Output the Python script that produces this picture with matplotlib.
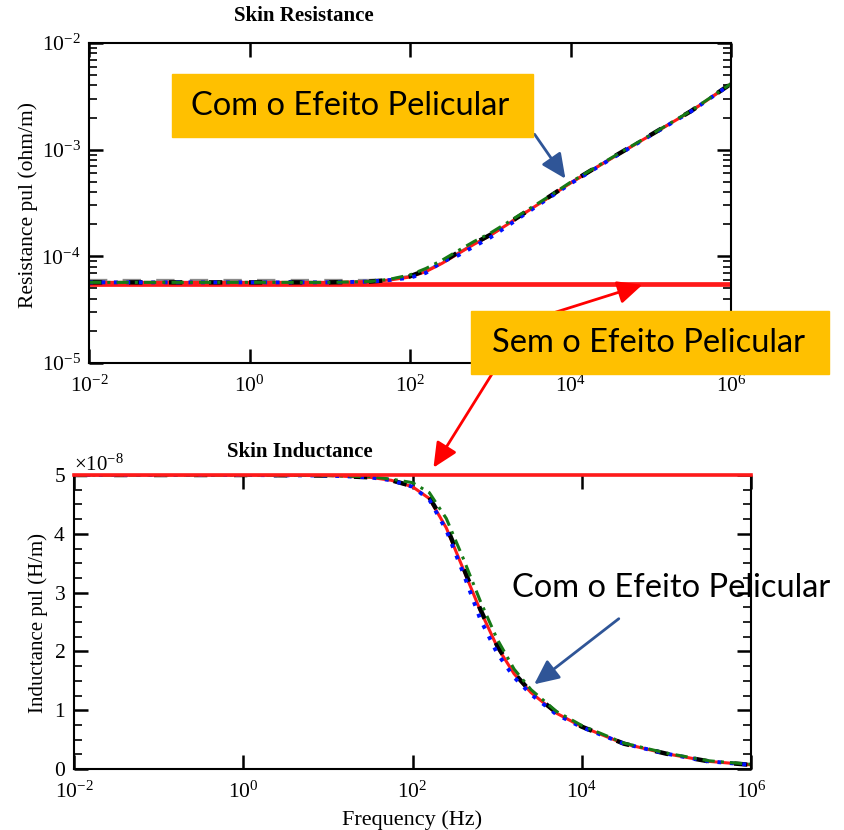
import matplotlib
matplotlib.use('Agg')
import matplotlib.pyplot as plt
import matplotlib.ticker as mticker
from matplotlib.patches import Rectangle
import numpy as np

plt.rcParams['font.family'] = ['Liberation Serif', 'DejaVu Serif']
plt.rcParams['mathtext.fontset'] = 'custom'
plt.rcParams['mathtext.rm'] = 'Liberation Serif'
plt.rcParams['mathtext.it'] = 'Liberation Serif:italic'
plt.rcParams['axes.linewidth'] = 1.5

# ---- data ----
# frequency grid (Hz)
freq = [0.01, 0.1, 1, 10, 31.6, 56.2, 100, 158, 251, 398, 631, 1000, 1585,
        2512, 5012, 10000, 31623, 100000, 316228, 1000000]

# skin resistance (ohm/m), units of 1e-5
r_fit = [5.7, 5.7, 5.7, 5.7, 5.8, 6.0, 6.4, 7.2, 8.6, 10.6, 13.0, 15.7, 19.6,
         24.6, 34.5, 48.7, 82.0, 137.0, 229.0, 414.0]
r_green = [5.7, 5.7, 5.7, 5.7, 5.8, 6.1, 6.7, 7.7, 9.2, 11.3, 13.8, 16.5, 20.4,
           25.4, 35.2, 49.5, 83.0, 138.0, 231.0, 416.0]
r_blue = [5.7, 5.7, 5.7, 5.7, 5.8, 6.0, 6.3, 7.0, 8.9, 10.2, 12.4, 15.0, 18.9,
          24.0, 34.0, 48.0, 81.5, 136.0, 228.0, 413.0]
r_black = [5.7, 5.7, 5.7, 5.7, 5.8, 6.0, 6.5, 7.4, 8.8, 10.9, 13.2, 15.9, 19.8,
           24.8, 34.8, 49.0, 82.5, 137.5, 229.5, 415.0]
r_gray = [5.95, 5.95, 5.95, 5.95, 5.95, 6.1, 6.5, 7.3, 8.7, 10.7, 13.1, 15.8, 19.7,
          24.7, 34.6, 48.8, 82.2, 137.2, 229.2, 414.5]
r_sem_freq = [0.01, 1000000]
r_sem = [5.55, 5.55]

# skin inductance (H/m), units of 1e-8
l_fit = [5.00, 5.00, 5.00, 4.99, 4.96, 4.91, 4.80, 4.60, 4.10, 3.40, 2.70,
         2.08, 1.62, 1.30, 0.95, 0.72, 0.43, 0.26, 0.13, 0.07]
l_green = [5.00, 5.00, 5.00, 4.99, 4.97, 4.93, 4.87, 4.70, 4.26, 3.58, 2.86,
           2.21, 1.70, 1.35, 0.98, 0.74, 0.44, 0.27, 0.14, 0.08]
l_blue = [5.00, 5.00, 5.00, 4.99, 4.96, 4.91, 4.80, 4.58, 4.06, 3.33, 2.55,
          1.97, 1.56, 1.27, 0.93, 0.71, 0.43, 0.26, 0.13, 0.07]
l_black = [5.00, 5.00, 5.00, 4.99, 4.96, 4.91, 4.81, 4.62, 4.13, 3.43, 2.72,
           2.10, 1.63, 1.31, 0.96, 0.72, 0.43, 0.26, 0.13, 0.07]
l_sem_freq = [0.01, 1000000]
l_sem = [5.0, 5.0]

W, H = 844, 830
fig = plt.figure(figsize=(W / 100, H / 100), dpi=100)


def px_rect(x0, y0, x1, y1):
    return [x0 / W, 1 - y1 / H, (x1 - x0) / W, (y1 - y0) / H]


def style_axes(ax):
    ax.set_xscale('log')
    ax.set_xlim(1e-2, 1e6)
    ax.set_xticks([1e-2, 1e0, 1e2, 1e4, 1e6])
    ax.xaxis.set_minor_locator(mticker.NullLocator())
    ax.tick_params(which='both', direction='in', top=True, right=True, labelsize=15.5)
    ax.tick_params(which='major', length=10, width=1.8)
    ax.tick_params(which='minor', length=6, width=1.2)
    ax.tick_params(axis='x', which='major', pad=9)
    ax.tick_params(axis='y', which='major', pad=6)


# ---- top: resistance ----
ax1 = fig.add_axes(px_rect(89, 43, 731, 363))
e5 = 1e-5
ax1.plot(freq, np.array(r_gray) * e5, color='#8a8a8a', lw=2.2, dashes=(6, 5))
ax1.plot(r_sem_freq, np.array(r_sem) * e5, color='#ff1a1a', lw=3.4)
ax1.plot(freq, np.array(r_fit) * e5, color='#ff1a1a', lw=2.2)
ax1.plot(freq, np.array(r_black) * e5, color='black', lw=3.2, dashes=(3, 6))
ax1.plot(freq, np.array(r_blue) * e5, color='#0010ff', lw=2.8, dashes=(1, 2.2))
ax1.plot(freq, np.array(r_green) * e5, color='#167a16', lw=2.2, dashes=(4, 2, 1, 2))
ax1.set_yscale('log')
ax1.set_ylim(1e-5, 1e-2)
style_axes(ax1)
ax1.yaxis.set_minor_locator(mticker.LogLocator(base=10, subs=np.arange(2, 10)))
ax1.yaxis.set_minor_formatter(mticker.NullFormatter())

# ---- bottom: inductance ----
ax2 = fig.add_axes(px_rect(74, 475, 751, 769))
e8 = 1e-8
ax2.plot(freq, np.array(l_fit) * e8, color='#ff1a1a', lw=2.2)
ax2.plot(freq, np.array(l_black) * e8, color='black', lw=3.2, dashes=(3, 6))
ax2.plot(freq, np.array(l_blue) * e8, color='#0010ff', lw=2.8, dashes=(1, 2.2))
ax2.plot(freq, np.array(l_green) * e8, color='#167a16', lw=2.2, dashes=(4, 2, 1, 2))
ax2.plot(l_sem_freq, np.array(l_sem) * e8, color='#ff1a1a', lw=2.6, clip_on=False, zorder=5)
ax2.set_ylim(0, 5e-8)
style_axes(ax2)
ax2.set_yticks(np.arange(0, 6) * 1e-8)
ax2.yaxis.set_minor_locator(mticker.MultipleLocator(0.25e-8))
ax2.ticklabel_format(axis='y', style='sci', scilimits=(0, 0), useMathText=True)
ax2.yaxis.get_offset_text().set_fontsize(15)

# ---- texts ----
fig.text(304 / W, 1 - 16 / H, 'Skin Resistance', ha='center', va='center',
         fontsize=15, fontweight='bold')
fig.text(300 / W, 1 - 452 / H, 'Skin Inductance', ha='center', va='center',
         fontsize=15, fontweight='bold')
fig.text(28 / W, 1 - 205 / H, 'Resistance pul (ohm/m)', ha='center', va='center',
         rotation=90, fontsize=15.5)
fig.text(38 / W, 1 - 623 / H, 'Inductance pul (H/m)', ha='center', va='center',
         rotation=90, fontsize=15)
fig.text(412 / W, 1 - 820 / H, 'Frequency (Hz)', ha='center', va='center', fontsize=16)

# ---- overlay annotations (pixel coordinates) ----
ov = fig.add_axes([0, 0, 1, 1], zorder=10)
ov.set_xlim(0, W)
ov.set_ylim(H, 0)
ov.axis('off')
ov.patch.set_alpha(0)

arrow_kw = dict(arrowstyle='-|>,head_length=0.75,head_width=0.35', lw=2, mutation_scale=20)
ov.annotate('', xy=(567, 181), xytext=(533, 132),
            arrowprops=dict(color='#2f5597', **arrow_kw))
ov.annotate('', xy=(645, 284), xytext=(553, 313),
            arrowprops=dict(color='#ff0000', **arrow_kw))
ov.annotate('', xy=(432, 470), xytext=(497, 366),
            arrowprops=dict(color='#ff0000', **arrow_kw))
ov.annotate('', xy=(532, 686), xytext=(621, 617),
            arrowprops=dict(color='#2f5597', **arrow_kw))

ov.add_patch(Rectangle((172, 74), 361, 63, color='#ffc000', zorder=3))
ov.add_patch(Rectangle((471, 311), 358, 63, color='#ffc000', zorder=3))
ov.text(350, 106, 'Com o Efeito Pelicular', ha='center', va='center',
        fontsize=23.5, family=['Lato', 'DejaVu Sans'], zorder=4)
ov.text(648, 343, 'Sem o Efeito Pelicular', ha='center', va='center',
        fontsize=23.5, family=['Lato', 'DejaVu Sans'], zorder=4)
ov.text(512, 588, 'Com o Efeito Pelicular', ha='left', va='center',
        fontsize=23.5, family=['Lato', 'DejaVu Sans'], zorder=4)

fig.savefig('out.png', dpi=100)
